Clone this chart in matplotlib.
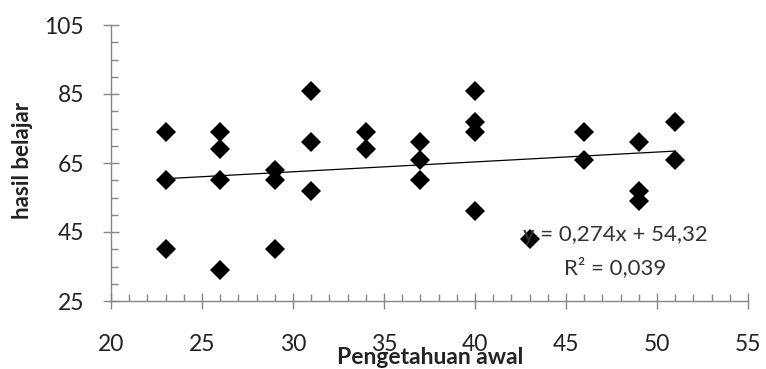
import numpy as np
import matplotlib
matplotlib.use("Agg")
import matplotlib.pyplot as plt
from matplotlib.ticker import MultipleLocator, FixedLocator

# Data
x_vals = [23, 23, 23,
          26, 26, 26, 26,
          29, 29, 29,
          31, 31, 31,
          34, 34,
          37, 37, 37,
          40, 40, 40, 40,
          43,
          46, 46,
          49, 49, 49,
          51, 51]
y_vals = [74, 60, 40,
          74, 69, 60, 34,
          63, 60, 40,
          86, 71, 57,
          74, 69,
          71, 66, 60,
          86, 77, 74, 51,
          43,
          74, 66,
          71, 57, 54,
          77, 66]
y_ticks = [25, 45, 65, 85, 105]
x_label = "Pengetahuan awal"
y_label = "hasil belajar"
eq_text = "y = 0,274x + 54,32"
r2_text = "R\u00b2 = 0,039"

plt.rcParams['font.family'] = ['Lato', 'DejaVu Sans']

fig = plt.figure(figsize=(7.66, 3.69), dpi=100)
ax = fig.add_axes([111/766, 1-301/369, (748-111)/766, (301-25)/369])

x = np.array(x_vals, dtype=float)
y = np.array(y_vals, dtype=float)
ax.plot(x, y, linestyle='none', marker='D', markersize=10, color='black',
        markeredgewidth=0, zorder=3)

slope, intercept = np.polyfit(x, y, 1)
xl = np.array([x.min(), x.max()])
ax.plot(xl, slope*xl + intercept, color='black', linewidth=0.9, zorder=2)

ax.set_xlim(20, 55)
ax.set_ylim(25, 105)
ax.xaxis.set_major_locator(MultipleLocator(5))
ax.xaxis.set_minor_locator(MultipleLocator(1))
ax.yaxis.set_major_locator(FixedLocator(y_ticks))
ax.yaxis.set_minor_locator(FixedLocator(np.arange(25, 106, 5)))

for s in ['top', 'right']:
    ax.spines[s].set_visible(False)
for s in ['left', 'bottom']:
    ax.spines[s].set_color('#868686')
    ax.spines[s].set_linewidth(1.0)

ax.tick_params(which='major', direction='inout', length=11, width=1.0,
               color='#868686', labelsize=16.5, labelcolor='#222222')
ax.tick_params(which='minor', direction='in', length=5, width=1.0,
               color='#868686')
ax.tick_params(axis='x', which='major', pad=18)
ax.tick_params(axis='y', which='major', pad=14)

ax.set_ylabel(y_label, fontsize=16, fontweight='bold', color='#222222')
ax.yaxis.set_label_coords(-0.122, 0.51)
ax.set_xlabel(x_label, fontsize=16.5, fontweight='bold', color='#222222')
ax.xaxis.set_label_coords(0.5008, -0.167)

ax.text(47.7, 44.1, eq_text, ha='center', va='center', fontsize=16, color='#333333', zorder=4)
ax.text(47.7, 34.6, r2_text, ha='center', va='center', fontsize=16, color='#333333', zorder=4)

fig.savefig("out.png", dpi=100)
